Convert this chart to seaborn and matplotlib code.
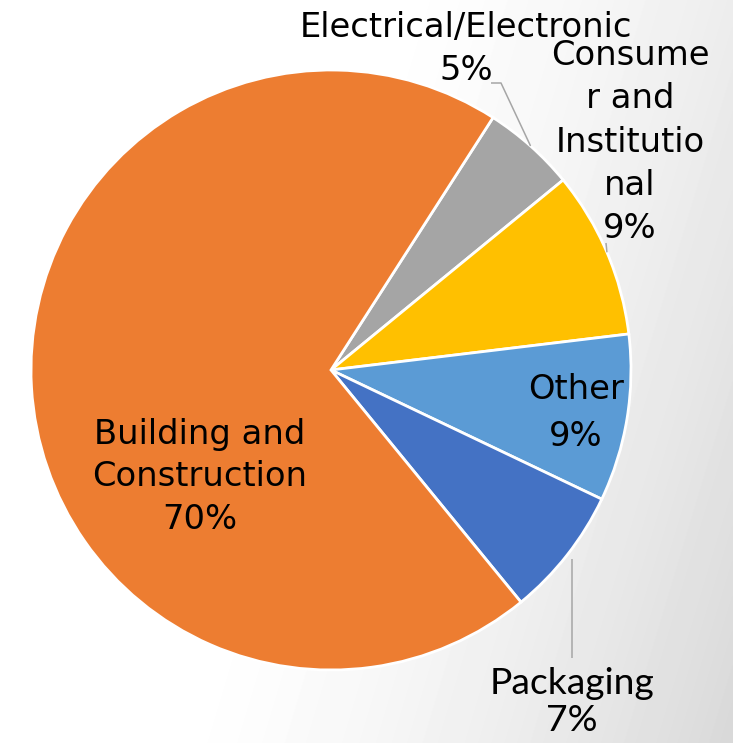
import numpy as np
import matplotlib
matplotlib.use("Agg")
import matplotlib.pyplot as plt
import seaborn as sns

# Plastics use by sector (share of total, %)
sectors = ["Electrical/Electronic", "Consumer and Institutional", "Other", "Packaging",
           "Building and Construction"]
shares = [5, 9, 9, 7, 70]
label_text = ["Electrical/Electronic", "Consume\nr and\nInstitutio\nnal", "Other", "Packaging",
              "Building and\nConstruction"]
colors = ["#A5A5A5", "#FFC000", "#5B9BD5", "#4472C4", "#ED7D31"]

sns.set_theme(style="white")
plt.rcParams["font.family"] = ["DejaVu Sans"]

W, H, DPI = 733, 743, 100
CX, CY, R = 331, 370, 300  # pie centre and radius in pixels


def px(x, y):
    """Pixel position (origin top-left) to data coordinates of the pie axes."""
    return (x - CX) / R, (CY - y) / R


fig = plt.figure(figsize=(W / DPI, H / DPI), dpi=DPI)
ax = fig.add_axes([0, 0, 1, 1])

xlim = (-CX / R, (W - CX) / R)
ylim = (-(H - CY) / R, CY / R)

# soft grey wash towards the right-hand side
yy, xx = np.mgrid[0:H, 0:W]
t = np.clip((xx + 0.3 * yy - 380) / (W + 0.3 * H - 380), 0, 1) ** 1.5
bg = 1.0 - 0.15 * t
ax.imshow(bg, cmap="gray", vmin=0, vmax=1, extent=(xlim[0], xlim[1], ylim[0], ylim[1]),
          aspect="auto", zorder=0, interpolation="bilinear")

wedges, _ = ax.pie(shares, colors=colors, startangle=57.3, counterclock=False,
                   radius=1.0, center=(0, 0),
                   wedgeprops=dict(edgecolor="white", linewidth=2.0, zorder=2))

ax.set_xlim(*xlim)
ax.set_ylim(*ylim)
ax.set_aspect("equal")
ax.set_axis_off()

fs = 24.3
txt = dict(ha="center", va="center", color="black", zorder=4)
lead = dict(color="#A6A6A6", lw=1.1, zorder=3, solid_capstyle="butt")


def rim(i, r=1.0):
    w = wedges[i]
    a = np.deg2rad((w.theta1 + w.theta2) / 2)
    return r * np.cos(a), r * np.sin(a)


# Electrical/Electronic (outside, with elbow leader)
ax.text(*px(466, 49), f"{label_text[0]}\n{shares[0]}%", fontsize=fs, linespacing=1.37, **txt)
x0, y0 = rim(0)
x1, y1 = px(501, 83)
x2, y2 = px(491, 83)
ax.plot([x0, x1, x2], [y0, y1, y2], **lead)

# Consumer and Institutional (outside, short leader)
ax.text(*px(630, 142), f"{label_text[1]}\n{shares[1]}%", fontsize=fs, linespacing=1.40, **txt)
x0, y0 = rim(1)
x1, y1 = px(606, 243)
ax.plot([x0, x1], [y0, y1], **lead)

# Other (inside)
ax.text(*px(576, 413), f"{label_text[2]}\n{shares[2]}%", fontsize=fs, linespacing=1.52, **txt)

# Packaging (outside, vertical leader)
x0, y0 = rim(3, 1.02)
ax.plot([x0, x0], [y0, px(0, 658)[1]], **lead)
ax.text(x0, px(0, 702)[1], f"{label_text[3]}\n{shares[3]}%", fontsize=26.8,
        family=["Lato", "DejaVu Sans"], linespacing=1.14, **txt)

# Building and Construction (inside)
ax.text(*px(200, 477), f"{label_text[4]}\n{shares[4]}%", fontsize=fs, linespacing=1.37, **txt)

fig.savefig("out.png", dpi=DPI)
